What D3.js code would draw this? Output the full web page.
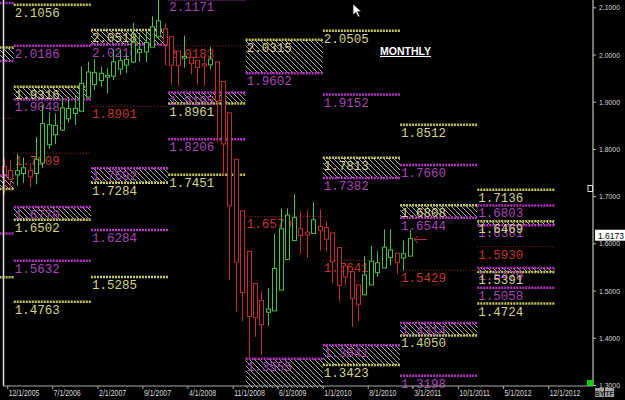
<!DOCTYPE html>
<html>
<head>
<meta charset="utf-8">
<script src="https://cdn.jsdelivr.net/npm/d3@7"></script>
<style>
html, body { margin: 0; padding: 0; background: #000; }
svg { display: block; }
</style>
</head>
<body>
<svg id="chart" width="625" height="400"></svg>
<script>
// monthly heikin-ashi candles
const months = ['2005-11','2005-12',
  '2006-01','2006-02','2006-03','2006-04','2006-05','2006-06','2006-07','2006-08','2006-09','2006-10','2006-11','2006-12',
  '2007-01','2007-02','2007-03','2007-04','2007-05','2007-06','2007-07','2007-08','2007-09','2007-10','2007-11','2007-12',
  '2008-01','2008-02','2008-03','2008-04','2008-05','2008-06','2008-07','2008-08','2008-09','2008-10','2008-11','2008-12',
  '2009-01','2009-02','2009-03','2009-04','2009-05','2009-06','2009-07','2009-08','2009-09','2009-10','2009-11','2009-12',
  '2010-01','2010-02','2010-03','2010-04','2010-05','2010-06','2010-07','2010-08','2010-09','2010-10','2010-11','2010-12',
  '2011-01','2011-02'];
const haOpen = [1.7627,1.7542,
  1.7450,1.7480,1.7550,1.7480,1.7700,1.8090,1.8300,1.8400,1.8640,1.8750,1.8800,1.9100,
  1.9366,1.9450,1.9520,1.9540,1.9690,1.9777,1.9840,2.0040,2.0056,2.0157,2.0373,2.0543,
  2.0377,2.0075,1.9923,1.9942,1.9878,1.9802,1.9781,1.9842,1.9428,1.8767,1.7781,1.6690,
  1.5830,1.5150,1.4790,1.4540,1.4570,1.5010,1.5660,1.6060,1.6310,1.6240,1.6210,1.6360,
  1.6330,1.6220,1.5910,1.5520,1.5400,1.5120,1.4910,1.5120,1.5380,1.5480,1.5700,1.5790,
  1.5690,1.5730];
const haHigh = [1.7800,1.7760,
  1.7900,1.7820,1.7700,1.8250,1.8940,1.8780,1.8750,1.9110,1.9100,1.9120,1.9750,1.9850,
  1.9900,1.9740,1.9720,2.0110,2.0100,2.0000,2.0668,2.0456,2.0510,2.0810,2.1160,2.0660,
  2.0377,2.0075,2.0400,1.9950,1.9878,1.9980,2.0160,1.9860,1.9428,1.8767,1.7781,1.6690,
  1.5830,1.5150,1.4984,1.5050,1.6200,1.6740,1.6740,1.7050,1.6680,1.6700,1.6880,1.6720,
  1.6460,1.6220,1.5910,1.5580,1.5400,1.5120,1.5730,1.5950,1.5830,1.6300,1.6300,1.5800,
  1.6060,1.6280];
const haLow = [1.7050,1.7160,
  1.7220,1.7280,1.7190,1.7250,1.7600,1.8000,1.8100,1.8380,1.8560,1.8510,1.8780,1.9100,
  1.9250,1.9320,1.9180,1.9460,1.9570,1.9610,1.9820,1.9842,1.9842,2.0157,2.0360,1.9770,
  1.9360,1.9340,1.9720,1.9580,1.9360,1.9340,1.9680,1.8140,1.7440,1.5220,1.4560,1.4350,
  1.3560,1.4020,1.3630,1.4250,1.4570,1.5010,1.5660,1.6060,1.5780,1.5690,1.6200,1.5840,
  1.5830,1.5160,1.4780,1.5110,1.4230,1.4350,1.4910,1.5120,1.5290,1.5480,1.5530,1.5350,
  1.5420,1.5730];
const haClose = [1.7458,1.7350,
  1.7540,1.7600,1.7410,1.7780,1.8540,1.8510,1.8500,1.8870,1.8855,1.8860,1.9390,1.9630,
  1.9615,1.9600,1.9560,1.9845,1.9870,1.9900,2.0250,2.0110,2.0255,2.0588,2.0713,2.0210,
  1.9773,1.9770,1.9960,1.9813,1.9725,1.9760,1.9903,1.9013,1.8105,1.6795,1.5600,1.4960,
  1.4450,1.4420,1.4280,1.4610,1.5470,1.6310,1.6600,1.6550,1.6170,1.6180,1.6500,1.6270,
  1.6090,1.5610,1.5110,1.5290,1.4830,1.4710,1.5330,1.5620,1.5590,1.5920,1.5860,1.5590,
  1.5780,1.6100];

// yearly pivot levels (null = off the chart)
const years = [2005, 2006, 2007, 2008, 2009, 2010, 2011, 2012];
const pivot = [1.8650, 1.7909, 1.8901, 2.0183, 1.6570, 1.5641, 1.5429, 1.5930];
const r1 = [1.9860, 1.9048, 2.0210, 2.1171, 1.9602, 1.7382, 1.6544, 1.6381];
const r2 = [2.0150, 1.9316, 2.0518, null,   2.0315, 1.7813, 1.6808, 1.6469];
const r3 = [2.1090, 2.0186, null,   null,   null,   1.9152, 1.7660, 1.6803];
const r4 = [null,   2.1056, null,   null,   null,   2.0505, 1.8512, 1.7136];
const s1 = [1.7440, 1.6770, 1.7592, 1.9195, 1.3555, 1.3841, 1.4314, 1.5479];
const s2 = [1.7150, 1.6502, 1.7284, 1.8961, 1.2825, 1.3423, 1.4050, 1.5391];
const s3 = [1.6210, 1.5632, 1.6284, 1.8206, null,   null,   1.3198, 1.5058];
const s4 = [1.5280, 1.4763, 1.5285, 1.7451, null,   null,   null,   1.4724];

const priceTicks = [1.3, 1.4, 1.5, 1.6, 1.7, 1.8, 1.9, 2.0, 2.1];
const dateTicks = ['2005-12','2006-07','2007-02','2007-09','2008-04','2008-11','2009-06',
  '2010-01','2010-08','2011-03','2011-10','2012-05','2012-12'];
const lastPrice = 1.6173;

const YEL = '#c6c65a', MAG = '#b534c2', RED = '#a82424';
const YEL_TXT = '#d2d28a', MAG_TXT = '#a844b6', RED_TXT = '#c03434';
const UP = '#46bf46', DOWN = '#bd2e2e';

const svg = d3.select('#chart');
const axisX = 593, axisY = 386;
const parseM = d3.timeParse('%Y-%m');

const x = d3.scaleTime()
  .domain([new Date(2005, 11, 1), new Date(2012, 11, 1)])
  .range([7.2, 548.2]);
const y = d3.scaleLinear()
  .domain([1.3, 2.1])
  .range([385, 7.3]);

svg.append('rect').attr('width', 625).attr('height', 400).attr('fill', '#000');

const defs = svg.append('defs');
defs.append('clipPath').attr('id', 'plot')
  .append('rect').attr('x', 0).attr('y', 0).attr('width', axisX).attr('height', axisY + 2);
defs.append('pattern')
  .attr('id', 'hatch')
  .attr('patternUnits', 'userSpaceOnUse')
  .attr('width', 5).attr('height', 5)
  .append('path')
  .attr('d', 'M-1,-1L6,6M-1,4L1,6M4,-1L6,1')
  .attr('stroke', '#a8a8a8')
  .attr('stroke-width', 1);

const plot = svg.append('g').attr('clip-path', 'url(#plot)');
const hatchG = plot.append('g');
const lineG = plot.append('g');
const labelG = plot.append('g');
const candleG = plot.append('g');

//levels: hatches, lines and labels, per year
years.forEach((yr, i) => {
  const x0 = x(new Date(yr, 0, 1)), x1 = x(new Date(yr + 1, 0, 1));
  const levels = [
    {v: pivot[i], kind: 'p'},
    {v: r1[i], kind: 'm'}, {v: r2[i], kind: 'y'}, {v: r3[i], kind: 'm'}, {v: r4[i], kind: 'y'},
    {v: s1[i], kind: 'm'}, {v: s2[i], kind: 'y'}, {v: s3[i], kind: 'm'}, {v: s4[i], kind: 'y'}
  ].filter(d => d.v != null);

  [[r2[i], r1[i]], [s1[i], s2[i]]].forEach(pair => {
    if (pair[0] == null || pair[1] == null) return;
    hatchG.append('rect')
      .attr('x', x0).attr('width', x1 - x0)
      .attr('y', y(pair[0]))
      .attr('height', y(pair[1]) - y(pair[0]))
      .attr('fill', 'url(#hatch)');
  });

  levels.forEach(d => {
    const ly = y(d.v);
    const ln = lineG.append('line')
      .attr('x1', x0).attr('x2', x1)
      .attr('y1', ly).attr('y2', ly);
    if (d.kind === 'p') {
      ln.attr('stroke', RED).attr('stroke-width', 1).attr('stroke-dasharray', '1,2');
    } else {
      ln.attr('stroke', d.kind === 'y' ? YEL : MAG)
        .attr('stroke-width', 2.5)
        .attr('stroke-dasharray', '2,1');
    }
    if (x0 < 0 || ly > axisY) return; // label would sit outside the plot
    labelG.append('text')
      .attr('x', x0 + 1)
      .attr('y', ly + 12)
      .attr('fill', d.kind === 'p' ? RED_TXT : d.kind === 'y' ? YEL_TXT : MAG_TXT)
      .attr('font-family', 'Liberation Mono, monospace')
      .attr('font-size', 12.5)
      .text(d3.format('.4f')(d.v));
  });
});

//candles
months.forEach((m, i) => {
  const d = parseM(m);
  const cx = Math.round((x(d) + x(d3.timeMonth.offset(d, 1))) / 2) + 0.5;
  const o = haOpen[i], c = haClose[i], hi = haHigh[i], lo = haLow[i];
  const col = c >= o ? UP : DOWN;
  const top = y(Math.max(o, c)), bot = y(Math.min(o, c));
  const g = candleG.append('g').attr('stroke', col).attr('stroke-width', 1);
  g.append('line').attr('x1', cx).attr('x2', cx).attr('y1', y(hi)).attr('y2', top);
  g.append('line').attr('x1', cx).attr('x2', cx).attr('y1', bot).attr('y2', y(lo));
  g.append('rect')
    .attr('x', cx - 2).attr('width', 4)
    .attr('y', top).attr('height', Math.max(1, bot - top))
    .attr('fill', '#000');
});

// left marker line
svg.append('line')
  .attr('x1', 3.5).attr('x2', 3.5).attr('y1', 0).attr('y2', axisY)
  .attr('stroke', '#e0e0e0').attr('stroke-width', 1.5);

// price axis
svg.append('line')
  .attr('x1', axisX).attr('x2', axisX).attr('y1', 0).attr('y2', axisY)
  .attr('stroke', '#9a9a9a').attr('stroke-width', 1.5);
const yAxis = svg.append('g')
  .attr('transform', `translate(${axisX},0)`)
  .call(d3.axisRight(y).tickValues(priceTicks).tickSize(3).tickPadding(3).tickFormat(d3.format('.4f')));
yAxis.select('.domain').remove();
yAxis.selectAll('line').attr('stroke', '#bbb');
yAxis.selectAll('text')
  .attr('fill', '#d8d8d8')
  .attr('font-family', 'Liberation Sans, Arial, sans-serif')
  .attr('font-size', 8)
  .attr('textLength', 21)
  .attr('lengthAdjust', 'spacingAndGlyphs');

// time axis
const xAxis = svg.append('g')
  .attr('transform', `translate(0,${axisY})`)
  .call(d3.axisBottom(x).tickValues(dateTicks.map(parseM)).tickSize(3).tickPadding(1)
    .tickFormat(d3.timeFormat('%-m/1/%Y')));
xAxis.select('.domain').remove();
xAxis.append('line').attr('x1', 3).attr('x2', axisX).attr('y1', 0).attr('y2', 0)
  .attr('stroke', '#aaa').attr('stroke-width', 1);
xAxis.selectAll('.tick line').attr('stroke', '#aaa');
xAxis.selectAll('.tick text')
  .attr('fill', '#d8d8d8')
  .attr('text-anchor', 'start')
  .attr('x', 1)
  .attr('font-family', 'Liberation Sans, Arial, sans-serif')
  .attr('font-size', 8.5)
  .attr('textLength', function() { return this.textContent.length * 3.4; })
  .attr('lengthAdjust', 'spacingAndGlyphs');

// last price box
svg.append('rect')
  .attr('x', 595).attr('y', y(lastPrice) - 5.5)
  .attr('width', 30).attr('height', 11)
  .attr('fill', '#fff');
svg.append('text')
  .attr('x', 598).attr('y', y(lastPrice) + 3.5)
  .attr('fill', '#000')
  .attr('font-family', 'Liberation Sans, Arial, sans-serif')
  .attr('font-size', 8.5)
  .text(d3.format('.4f')(lastPrice));

// arrow pointing at last candle
svg.append('path')
  .attr('d', 'M427,239.5L414,239.5M418,236L414,239.5L418,243')
  .attr('fill', 'none').attr('stroke', '#c03030').attr('stroke-width', 1);

// title
svg.append('text')
  .attr('x', 380).attr('y', 54.5)
  .attr('fill', '#fff')
  .attr('font-family', 'Liberation Sans, Arial, sans-serif')
  .attr('font-size', 11).attr('font-weight', 'bold')
  .attr('textLength', 51).attr('lengthAdjust', 'spacingAndGlyphs')
  .text('MONTHLY');
svg.append('line')
  .attr('x1', 380).attr('x2', 431).attr('y1', 56.5).attr('y2', 56.5)
  .attr('stroke', '#fff').attr('stroke-width', 1);

// mouse pointer
svg.append('path')
  .attr('d', 'M353,4L353,15L355.8,12.3L358,17L359.8,16.2L357.6,11.6L361.3,11.6Z')
  .attr('fill', '#fff').attr('stroke', '#000').attr('stroke-width', 0.6);

// small widgets at the right edge
svg.append('rect').attr('x', 587).attr('y', 380).attr('width', 6).attr('height', 6).attr('fill', '#10d010');
svg.append('rect').attr('x', 588).attr('y', 185.5).attr('width', 4.5).attr('height', 6)
  .attr('fill', '#000').attr('stroke', '#ddd').attr('stroke-width', 1);
[['BY', 595], ['TF', 605]].forEach(b => {
  svg.append('rect').attr('x', b[1]).attr('y', 388).attr('width', 9).attr('height', 9).attr('fill', '#a0a0a0');
  svg.append('text').attr('x', b[1] + 4.5).attr('y', 395.5)
    .attr('text-anchor', 'middle').attr('fill', '#222')
    .attr('font-family', 'Liberation Sans, Arial, sans-serif')
    .attr('font-size', 7).attr('font-weight', 'bold')
    .text(b[0]);
});
</script>
</body>
</html>
